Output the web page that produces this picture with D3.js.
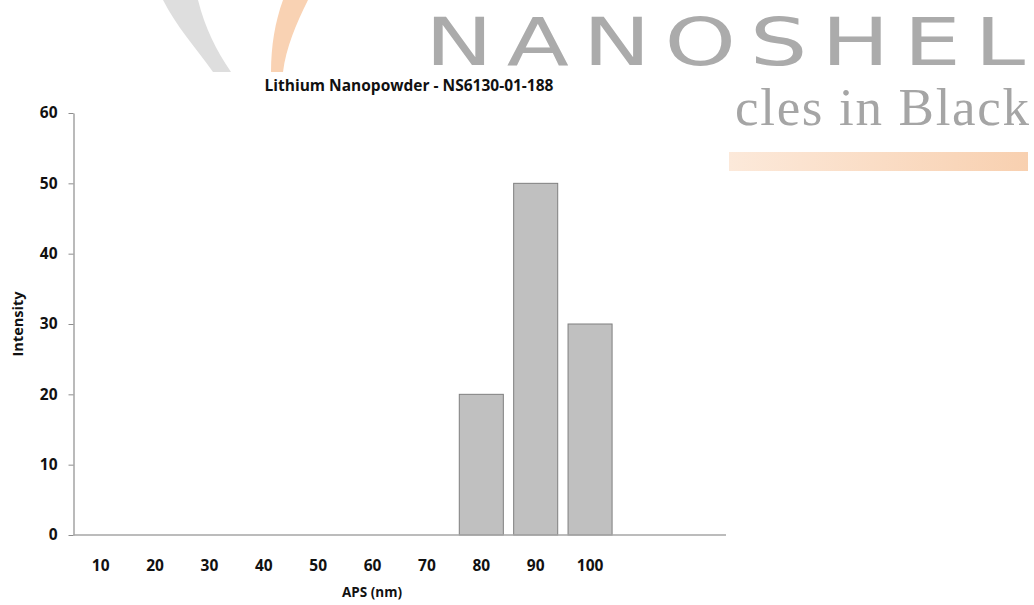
<!DOCTYPE html>
<html>
<head>
<meta charset="utf-8">
<script src="https://cdn.jsdelivr.net/npm/d3@7"></script>
<style>
  html, body { margin: 0; padding: 0; background: #ffffff; }
  svg { display: block; }
</style>
</head>
<body>
<svg id="chart" width="1034" height="605"></svg>
<script>
// Particle size distribution (APS, nm) and measured intensity
const sizes = ["10", "20", "30", "40", "50", "60", "70", "80", "90", "100"];
const intensity = [0, 0, 0, 0, 0, 0, 0, 20, 50, 30];
const yTicks = [0, 10, 20, 30, 40, 50, 60];

const chartTitle = "Lithium Nanopowder - NS6130-01-188";
const xTitle = "APS (nm)";
const yTitle = "Intensity";

const svg = d3.select("#chart");

// ---- brand artwork behind the chart ----
const defs = svg.append("defs");
const grad = defs.append("linearGradient").attr("id", "peach").attr("x1", "0%").attr("x2", "100%");
grad.append("stop").attr("offset", "0%").attr("stop-color", "#fce9da");
grad.append("stop").attr("offset", "100%").attr("stop-color", "#f8d0b0");

svg.append("path")
  .attr("d", "M163,0 L198,0 C205,28 216,50 231,72 L213,72 C196,48 176,26 163,0 Z")
  .attr("fill", "#dedede");
svg.append("path")
  .attr("d", "M283,0 L308,0 C296,24 286,48 283,72 L271,72 C271,46 275,22 283,0 Z")
  .attr("fill", "#f9d2b3");

svg.append("text")
  .attr("x", 425).attr("y", 65)
  .attr("textLength", 614).attr("lengthAdjust", "spacingAndGlyphs")
  .attr("letter-spacing", 10)
  .attr("font-family", "'DejaVu Sans', sans-serif")
  .attr("font-size", 66)
  .attr("fill", "#ababab")
  .text("NANOSHEL");

svg.append("text")
  .attr("x", 735).attr("y", 125)
  .attr("textLength", 294).attr("lengthAdjust", "spacing")
  .attr("font-family", "'Liberation Serif', serif")
  .attr("font-size", 53)
  .attr("fill", "#a5a5a5")
  .text("cles in Black");

svg.append("rect")
  .attr("x", 729).attr("y", 152).attr("width", 299).attr("height", 19)
  .attr("fill", "url(#peach)");

// ---- chart ----
const plot = { left: 73.5, right: 726, top: 113, bottom: 535 };
const step = (plot.right - plot.left) / 12;

const x = d3.scaleBand()
  .domain(sizes)
  .range([plot.left, plot.left + step * sizes.length])
  .paddingInner(0.19)
  .paddingOuter(0.095);

const y = d3.scaleLinear().domain([0, 60]).range([plot.bottom, plot.top]);

const font = "'Open Sans', 'Liberation Sans', sans-serif";

// bars
svg.append("g").selectAll("rect")
  .data(sizes.map((s, i) => ({ s, v: intensity[i] })).filter(d => d.v > 0))
  .join("rect")
  .attr("x", d => x(d.s))
  .attr("y", d => y(d.v))
  .attr("width", x.bandwidth())
  .attr("height", d => y(0) - y(d.v))
  .attr("fill", "#c0c0c0")
  .attr("stroke", "#7f7f7f")
  .attr("stroke-width", 1);

// y axis
const yAxis = svg.append("g")
  .attr("transform", `translate(${plot.left},0)`)
  .call(d3.axisLeft(y).tickValues(yTicks).tickSize(5).tickPadding(11).tickSizeOuter(0));
yAxis.select(".domain").attr("stroke", "#8c8c8c").attr("stroke-width", 1.2);
yAxis.selectAll(".tick line").attr("stroke", "#8c8c8c");
yAxis.selectAll(".tick text")
  .attr("font-family", font).attr("font-weight", "bold").attr("font-size", 15.5).attr("fill", "#111");

// x axis
const xAxis = svg.append("g")
  .attr("transform", `translate(0,${plot.bottom})`)
  .call(d3.axisBottom(x).tickSize(0).tickPadding(25));
xAxis.select(".domain").remove();
xAxis.append("line")
  .attr("x1", plot.left).attr("x2", plot.right)
  .attr("stroke", "#a6a6a6").attr("stroke-width", 1.5);
xAxis.selectAll(".tick text")
  .attr("font-family", font).attr("font-weight", "bold").attr("font-size", 15.5).attr("fill", "#111");

// titles
svg.append("text")
  .attr("x", 409).attr("y", 91)
  .attr("text-anchor", "middle")
  .attr("font-family", font).attr("font-weight", "bold").attr("font-size", 15.5)
  .attr("fill", "#111")
  .text(chartTitle);

svg.append("text")
  .attr("x", 372).attr("y", 597)
  .attr("text-anchor", "middle")
  .attr("font-family", font).attr("font-weight", "bold").attr("font-size", 13.5)
  .attr("fill", "#111")
  .text(xTitle);

svg.append("text")
  .attr("transform", "translate(23,324) rotate(-90)")
  .attr("text-anchor", "middle")
  .attr("font-family", font).attr("font-weight", "bold").attr("font-size", 14.5)
  .attr("fill", "#111")
  .text(yTitle);
</script>
</body>
</html>
